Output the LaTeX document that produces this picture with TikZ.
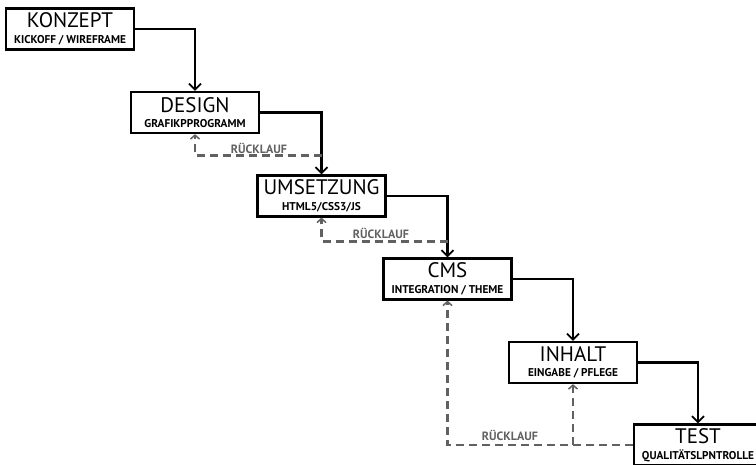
\documentclass[tikz,border=0pt]{standalone}
\usepackage{fontspec}
\setmainfont{PT Sans}
\usetikzlibrary{arrows.meta}
\newcommand\stitle[1]{{\fontsize{21}{21}\selectfont #1}}
\newcommand\ssub[1]{{\fontsize{11.3}{12}\selectfont\bfseries #1}}
\begin{document}
\begin{tikzpicture}[x=1pt,y=-1pt,
  stage/.style={draw=black, line width=2.2pt, fill=white, minimum width=128pt,
    minimum height=41pt, inner sep=0pt, align=center, font=\fontsize{10}{15.5}\selectfont},
  flow/.style={draw=black, line width=2.2pt,
    -{Straight Barb[length=6pt,width=12pt,line width=1.8pt]}},
  back/.style={draw=black!62, line width=2.6pt, dash pattern=on 8pt off 5pt,
    -{Straight Barb[length=4pt,width=9pt,line width=1.5pt]}},
  lbl/.style={text=black!62, font=\fontsize{12}{12}\selectfont\bfseries, inner sep=1pt}]
\useasboundingbox (0,0) rectangle (756,464);
\clip (0,0) rectangle (756,464);
\fill[white] (0,0) rectangle (756,464);

\node[stage] (konzept)   at (70,29)    {\stitle{KONZEPT}\\\ssub{KICKOFF / WIREFRAME}};
\node[stage] (design)    at (195,112.5){\stitle{DESIGN}\\\ssub{GRAFIKPPROGRAMM}};
\node[stage] (umsetzung) at (321.5,196){\stitle{UMSETZUNG}\\\ssub{HTML5/CSS3/JS}};
\node[stage] (cms)       at (447.5,279){\stitle{CMS}\\\ssub{INTEGRATION / THEME}};
\node[stage] (inhalt)    at (573,362.5){\stitle{INHALT}\\\ssub{EINGABE / PFLEGE}};
\node[stage] (test)      at (698,445)  {\stitle{TEST}\\\ssub{QUALITÄTSLPNTROLLE}};

\draw[flow] (konzept.east) -| (design.north);
\draw[flow] (design.east) -| (umsetzung.north);
\draw[flow] (umsetzung.east) -| (cms.north);
\draw[flow] (cms.east) -| (inhalt.north);
\draw[flow] (inhalt.east) -| (test.north);

\coordinate (r1) at ([yshift=19pt]umsetzung.north);
\coordinate (r2) at ([yshift=16pt]cms.north);
\coordinate (r3) at (inhalt.south |- test.west);

\draw[back] (r1) -| (design.south);
\draw[back] (r2) -| (umsetzung.south);
\draw[back] (test.west) -| (cms.south);
\draw[back] (r3) -- (inhalt.south);

\node[lbl] (l1) at (259,148) {RÜCKLAUF};
\node[lbl] (l2) at (381,233) {RÜCKLAUF};
\node[lbl] (l3) at (510,435) {RÜCKLAUF};
\end{tikzpicture}
\end{document}
